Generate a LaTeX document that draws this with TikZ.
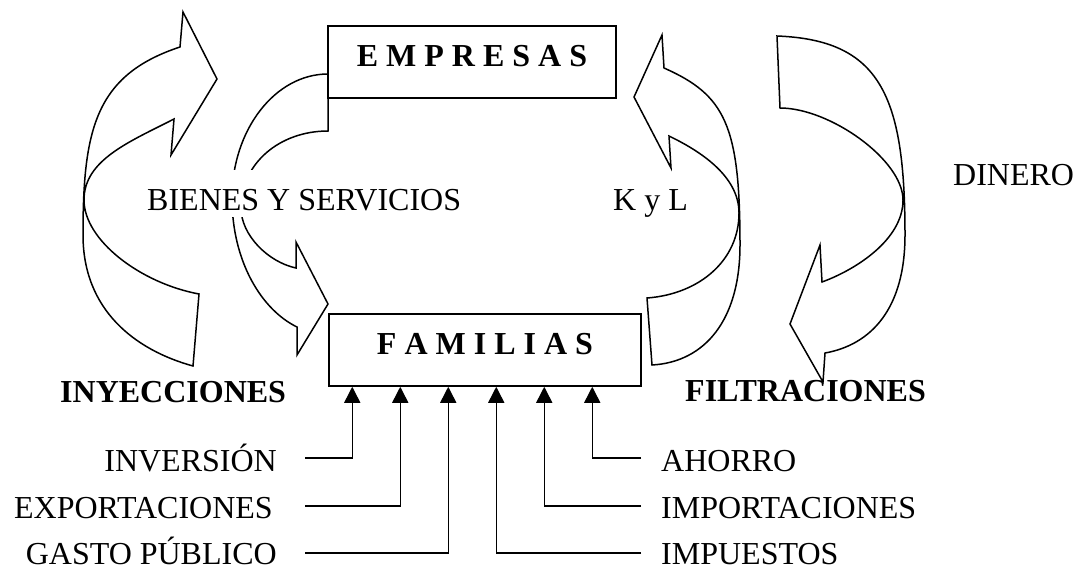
\documentclass[tikz,border=0pt]{standalone}
\usepackage{fontspec}
\setmainfont{Liberation Serif}
\usetikzlibrary{arrows.meta}
\begin{document}
\begin{tikzpicture}[x=1pt,y=-1pt,
  band/.style={draw=black, line width=1.5pt, line join=miter},
  box/.style={draw=black, line width=1.5pt, font=\fontsize{32}{38}\selectfont\bfseries, text depth=12pt, inner sep=0pt},
  lbl/.style={font=\fontsize{32}{38}\selectfont, inner sep=0pt},
  blbl/.style={font=\fontsize{32}{38}\selectfont\bfseries, inner sep=0pt},
  flow/.style={line width=1.5pt, -{Triangle[width=16pt,length=16pt]}}]
\useasboundingbox (0,0) rectangle (1076,571);

% curved arrows
\draw[band] (193,366) .. controls (135,350) and (83,310) .. (83,235)
  .. controls (83,130) and (95,75) .. (180,47)
  -- (183,12) -- (217,79) -- (171,155) -- (174,119)
  .. controls (129,142) and (84,160) .. (84,200)
  .. controls (84,240) and (140,283) .. (199,294) -- cycle;

\draw[band] (328,131) -- (328,74) .. controls (275,74) and (232,130) .. (232,198)
  .. controls (232,262) and (262,310) .. (297,327)
  -- (297,355) -- (328,304) -- (296,242) -- (296,268)
  .. controls (268,262) and (241,235) .. (241,208)
  .. controls (241,163) and (280,131) .. (328,131) -- cycle;

\draw[band] (652,365) .. controls (705,362) and (740,320) .. (740,245)
  .. controls (740,125) and (725,95) .. (664,68)
  -- (662,35) -- (634,97) -- (671,168) -- (669,136)
  .. controls (698,150) and (739,175) .. (739,213)
  .. controls (739,260) and (700,294) .. (647,298) -- cycle;

\draw[band] (780,108) -- (777,36) .. controls (880,40) and (905,95) .. (905,235)
  .. controls (905,310) and (870,345) .. (825,353)
  -- (823,382) -- (790,324) -- (820,245) -- (822,282)
  .. controls (855,270) and (903,240) .. (903,200)
  .. controls (903,160) and (830,108) .. (780,108) -- cycle;

% boxes
\node[box, minimum width=288pt, minimum height=72pt] (emp) at (472,62) {E M P R E S A S};
\node[box, minimum width=312pt, minimum height=72pt] (fam) at (485,350) {F A M I L I A S};

% labels
\node[lbl, anchor=base west, fill=white, text height=40pt, text depth=7pt, inner xsep=2pt] (bys) at (145,210) {BIENES Y SERVICIOS};
\node[lbl, anchor=base west] (kyl) at (613,210) {K y L};
\node[lbl, anchor=base west] (din) at (953,185) {DINERO};
\node[blbl, anchor=base west] (iny) at (60,402) {INYECCIONES};
\node[blbl, anchor=base west] (fil) at (685,401) {FILTRACIONES};

\node[lbl, anchor=base east] (inv) at (277,471) {INVERSIÓN};
\node[lbl, anchor=base east] (exp) at (273,518) {EXPORTACIONES};
\node[lbl, anchor=base east] (gas) at (277,564) {GASTO PÚBLICO};
\node[lbl, anchor=base west] (aho) at (661,471) {AHORRO};
\node[lbl, anchor=base west] (imp) at (661,518) {IMPORTACIONES};
\node[lbl, anchor=base west] (imu) at (661,564) {IMPUESTOS};

% connectors
\coordinate (iA) at (305,458);
\coordinate (iB) at (305,506);
\coordinate (iC) at (305,553);
\coordinate (oA) at (641,458);
\coordinate (oB) at (641,506);
\coordinate (oC) at (641,553);
\draw[flow] (iA) -| ([xshift=24pt]fam.south west);
\draw[flow] (iB) -| ([xshift=72pt]fam.south west);
\draw[flow] (iC) -| ([xshift=120pt]fam.south west);
\draw[flow] (oC) -| ([xshift=168pt]fam.south west);
\draw[flow] (oB) -| ([xshift=216pt]fam.south west);
\draw[flow] (oA) -| ([xshift=264pt]fam.south west);
\end{tikzpicture}
\end{document}
